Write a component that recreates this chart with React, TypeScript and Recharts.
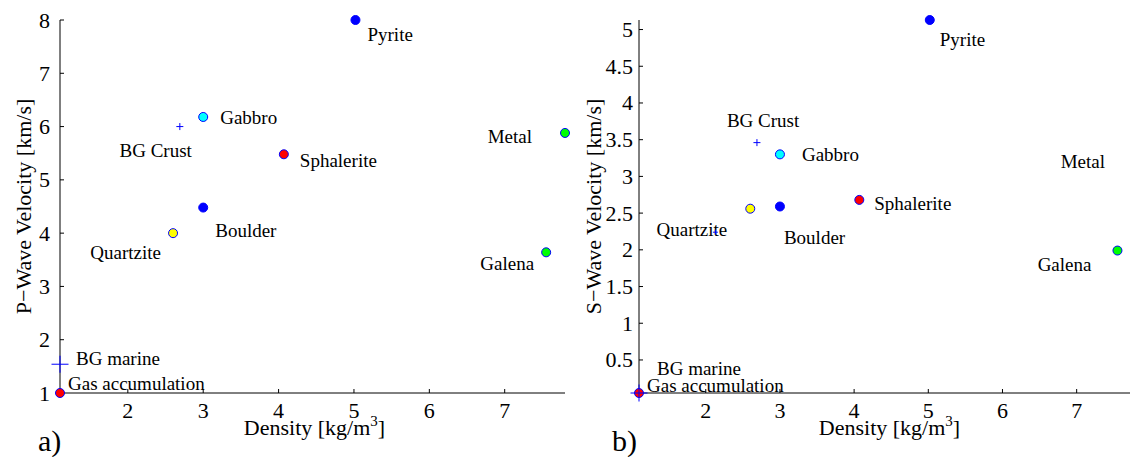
import React from "react";
import { ScatterChart, Scatter, XAxis, YAxis } from "recharts";

const names = [
  "Pyrite",
  "Gabbro",
  "BG Crust",
  "Sphalerite",
  "Boulder",
  "Quartzite",
  "Metal",
  "Galena",
  "Gas accumulation",
  "BG marine",
];
const density = [5.02, 3.0, 2.69, 4.07, 3.0, 2.6, 7.8, 7.55, 1.1, 1.1];
const pWave = [8.0, 6.18, 6.0, 5.48, 4.48, 4.0, 5.88, 3.64, 1.0, 1.54];
const sWave = [5.13, 3.3, 3.46, 2.68, 2.59, 2.56, 3.26, 1.99, 0.05, 0.05];

// unlabeled point inside the Quartzite label on the S-wave plot
const strayDensity = [2.13];
const straySWave = [2.24];

const densityTicks = [2, 3, 4, 5, 6, 7];
const pTicks = [1, 2, 3, 4, 5, 6, 7, 8];
const sTicks = [0.5, 1, 1.5, 2, 2.5, 3, 3.5, 4, 4.5, 5];

const pData = names.map((name, i) => ({ name, x: density[i], y: pWave[i] }));
const sData = names.map((name, i) => ({ name, x: density[i], y: sWave[i] }));
const strayData = strayDensity.map((x, i) => ({ name: "", x, y: straySWave[i] }));

const FONT = "Liberation Serif";
const BLUE = "#0000ff";

type Mk = { kind: "dot" | "plus" | "none"; fill?: string; size: number };
const markers: Record<string, Mk> = {
  Pyrite: { kind: "dot", fill: BLUE, size: 4.5 },
  Gabbro: { kind: "dot", fill: "#00ffff", size: 4.5 },
  "BG Crust": { kind: "plus", size: 3.5 },
  Sphalerite: { kind: "dot", fill: "#ff0000", size: 4.5 },
  Boulder: { kind: "dot", fill: BLUE, size: 4.5 },
  Quartzite: { kind: "dot", fill: "#ffff00", size: 4.5 },
  Metal: { kind: "dot", fill: "#00ff00", size: 4.5 },
  Galena: { kind: "dot", fill: "#00ff00", size: 4.5 },
  "Gas accumulation": { kind: "dot", fill: "#ff0000", size: 4.5 },
  "BG marine": { kind: "plus", size: 8.5 },
  "": { kind: "plus", size: 2.5 },
};

type Lb = { dx: number; dy: number; anchor: "start" | "end" };
const pLabels: Record<string, Lb> = {
  Pyrite: { dx: 12, dy: 14, anchor: "start" },
  Gabbro: { dx: 17, dy: 1, anchor: "start" },
  "BG Crust": { dx: 12, dy: 24, anchor: "end" },
  Sphalerite: { dx: 16, dy: 6, anchor: "start" },
  Boulder: { dx: 12, dy: 23, anchor: "start" },
  Quartzite: { dx: -12, dy: 19, anchor: "end" },
  Metal: { dx: -33, dy: 4, anchor: "end" },
  Galena: { dx: -12, dy: 11, anchor: "end" },
  "BG marine": { dx: 16, dy: -6, anchor: "start" },
  "Gas accumulation": { dx: 8, dy: -10, anchor: "start" },
};
const sLabels: Record<string, Lb> = {
  Pyrite: { dx: 10, dy: 19, anchor: "start" },
  Gabbro: { dx: 22, dy: 0, anchor: "start" },
  "BG Crust": { dx: -30, dy: -22, anchor: "start" },
  Sphalerite: { dx: 15, dy: 4, anchor: "start" },
  Boulder: { dx: 4, dy: 31, anchor: "start" },
  Quartzite: { dx: -23, dy: 21, anchor: "end" },
  Metal: { dx: -31, dy: 4, anchor: "end" },
  Galena: { dx: -26, dy: 14, anchor: "end" },
  "BG marine": { dx: 18, dy: -25, anchor: "start" },
  "Gas accumulation": { dx: 8, dy: -8, anchor: "start" },
};

function makeShape(labels: Record<string, Lb>, hidden: string[] = []) {
  return (props: any) => {
    const { cx, cy, payload } = props;
    const name: string = payload.name;
    const m = markers[name];
    const lb = labels[name];
    let mark = null;
    if (m && !hidden.includes(name)) {
      if (m.kind === "dot") {
        mark = <circle cx={cx} cy={cy} r={m.size} fill={m.fill} stroke={BLUE} strokeWidth={1} />;
      } else if (m.kind === "plus") {
        mark = (
          <path
            d={`M${cx - m.size},${cy}H${cx + m.size}M${cx},${cy - m.size}V${cy + m.size}`}
            stroke={BLUE}
            strokeWidth={1}
          />
        );
      }
    }
    return (
      <g>
        {mark}
        {lb && (
          <text
            x={cx + lb.dx}
            y={cy + lb.dy}
            textAnchor={lb.anchor}
            dominantBaseline="central"
            fontFamily={FONT}
            fontSize={19}
            fill="#000"
          >
            {name}
          </text>
        )}
      </g>
    );
  };
}

function XTick(props: any) {
  const { x, y, payload } = props;
  return (
    <text x={x} y={y} dy={14} textAnchor="middle" fontFamily={FONT} fontSize={22} fill="#000">
      {payload.value}
    </text>
  );
}

function YTick(props: any) {
  const { x, y, payload } = props;
  return (
    <text x={x} y={y} dy={7.5} textAnchor="end" fontFamily={FONT} fontSize={22} fill="#000">
      {payload.value}
    </text>
  );
}

function DensityLabel(props: any) {
  const vb = props.viewBox || { x: 0, y: 0, width: 0 };
  return (
    <text
      x={vb.x + vb.width / 2 + 2}
      y={vb.y + 42}
      textAnchor="middle"
      fontFamily={FONT}
      fontSize={22}
      fill="#000"
    >
      Density [kg/m
      <tspan dy={-9} fontSize={15}>3</tspan>
      <tspan dy={9}>]</tspan>
    </text>
  );
}

function VLabel(props: any) {
  const vb = props.viewBox || { x: 0, y: 0, height: 0 };
  const cx = vb.x + props.offsetX;
  const cy = vb.y + vb.height / 2;
  return (
    <text
      x={cx}
      y={cy}
      transform={`rotate(-90 ${cx} ${cy})`}
      textAnchor="middle"
      dominantBaseline="central"
      fontFamily={FONT}
      fontSize={22}
      fill="#000"
    >
      {props.text}
    </text>
  );
}

const lineStyle = { stroke: "#000", strokeWidth: 1 };

export default function App() {
  return (
    <div
      style={{
        position: "fixed",
        left: 0,
        top: 0,
        width: 1130,
        height: 457,
        overflow: "hidden",
        background: "#fff",
      }}
    >
      <div style={{ position: "absolute", left: 0, top: 0 }}>
        <ScatterChart width={580} height={457} margin={{ top: 20, right: 15, left: 0, bottom: 0 }}>
          <XAxis
            type="number"
            dataKey="x"
            domain={[1.1, 7.8]}
            ticks={densityTicks}
            height={64}
            tick={<XTick />}
            tickSize={-4}
            tickMargin={15}
            axisLine={lineStyle}
            tickLine={lineStyle}
            label={<DensityLabel />}
          />
          <YAxis
            type="number"
            dataKey="y"
            domain={[1, 8]}
            ticks={pTicks}
            width={60}
            tick={<YTick />}
            tickSize={-4}
            tickMargin={14}
            axisLine={lineStyle}
            tickLine={lineStyle}
            label={<VLabel text="P−Wave Velocity [km/s]" offsetX={23} />}
          />
          <Scatter data={pData} shape={makeShape(pLabels)} isAnimationActive={false} />
        </ScatterChart>
      </div>
      <div style={{ position: "absolute", left: 580, top: 0 }}>
        <ScatterChart width={560} height={457} margin={{ top: 20, right: 4, left: 0, bottom: 0 }}>
          <XAxis
            type="number"
            dataKey="x"
            domain={[1.1, 7.8]}
            ticks={densityTicks}
            height={64}
            tick={<XTick />}
            tickSize={-4}
            tickMargin={15}
            axisLine={lineStyle}
            tickLine={lineStyle}
            label={<DensityLabel />}
          />
          <YAxis
            type="number"
            dataKey="y"
            domain={[0.05, 5.13]}
            ticks={sTicks}
            width={59}
            tick={<YTick />}
            tickSize={-4}
            tickMargin={10}
            axisLine={lineStyle}
            tickLine={lineStyle}
            label={<VLabel text="S−Wave Velocity [km/s]" offsetX={13} />}
          />
          <Scatter data={sData} shape={makeShape(sLabels, ["Metal"])} isAnimationActive={false} />
          <Scatter data={strayData} shape={makeShape({})} isAnimationActive={false} />
        </ScatterChart>
      </div>
      <svg
        width={1130}
        height={457}
        style={{ position: "absolute", left: 0, top: 0, pointerEvents: "none" }}
      >
        <text x={38} y={451} fontFamily={FONT} fontSize={30} fill="#000">
          a)
        </text>
        <text x={612} y={451} fontFamily={FONT} fontSize={30} fill="#000">
          b)
        </text>
      </svg>
    </div>
  );
}
